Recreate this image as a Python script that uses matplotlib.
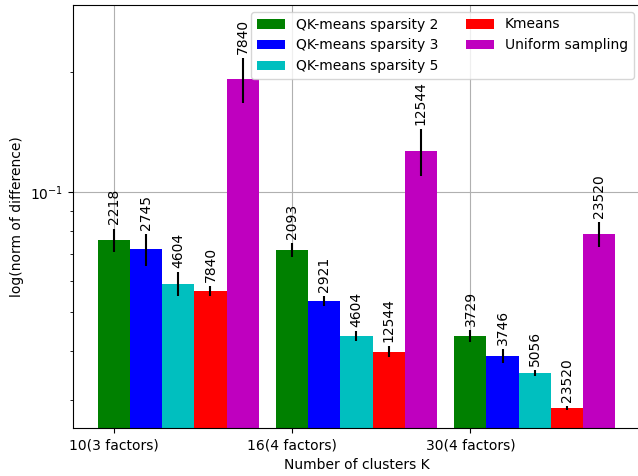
import numpy as np
import matplotlib
matplotlib.use("Agg")
import matplotlib.pyplot as plt
from matplotlib.ticker import NullFormatter

groups = ["10(3 factors)", "16(4 factors)", "30(4 factors)"]
series = ["QK-means sparsity 2", "QK-means sparsity 3", "QK-means sparsity 5",
          "Kmeans", "Uniform sampling"]
colors = ["g", "b", "c", "r", "m"]

sp2 = [0.0759, 0.0716, 0.0435]
sp2_err = [0.0052, 0.0028, 0.0015]
sp3 = [0.0720, 0.0533, 0.0388]
sp3_err = [0.0066, 0.0015, 0.0015]
sp5 = [0.0589, 0.0435, 0.0351]
sp5_err = [0.0040, 0.0013, 0.0006]
kmeans = [0.0565, 0.0398, 0.0287]
kmeans_err = [0.0017, 0.0012, 0.0003]
uniform = [0.1923, 0.1272, 0.0786]
uniform_err = [0.025, 0.017, 0.0056]

sp2_lbl = [2218, 2093, 3729]
sp3_lbl = [2745, 2921, 3746]
sp5_lbl = [4604, 4604, 5056]
kmeans_lbl = [7840, 12544, 23520]
uniform_lbl = [7840, 12544, 23520]

values = [sp2, sp3, sp5, kmeans, uniform]
errors = [sp2_err, sp3_err, sp5_err, kmeans_err, uniform_err]
labels = [sp2_lbl, sp3_lbl, sp5_lbl, kmeans_lbl, uniform_lbl]

fig = plt.figure(figsize=(6.38, 4.76), dpi=100)
ax = fig.add_axes([72.5 / 638, 1 - 428.3 / 476, 568 / 638, (428.3 - 5) / 476])
ax.set_axisbelow(True)

x = np.arange(len(groups))
w = 0.18
for i, (v, e, lb, c, name) in enumerate(zip(values, errors, labels, colors, series)):
    pos = x + i * w
    ax.bar(pos, v, width=w, color=c, yerr=e, ecolor="k", label=name,
           error_kw=dict(elinewidth=1.5))
    for px, val, err, txt in zip(pos, v, e, lb):
        ax.annotate(str(txt), (px, val + err), xytext=(0, 3),
                    textcoords="offset points", rotation=90,
                    ha="center", va="bottom", fontsize=10)

ax.set_yscale("log")
ax.set_ylim(0.02553, 0.2955)
ax.yaxis.set_minor_formatter(NullFormatter())
ax.set_xticks(x)
ax.set_xticklabels(groups)
ax.grid(True, which="major")
ax.set_xlabel("Number of clusters K")
ax.set_ylabel("log(norm of difference)")
ax.legend(loc="upper right", ncol=2)

fig.savefig("out.png", dpi=100)
